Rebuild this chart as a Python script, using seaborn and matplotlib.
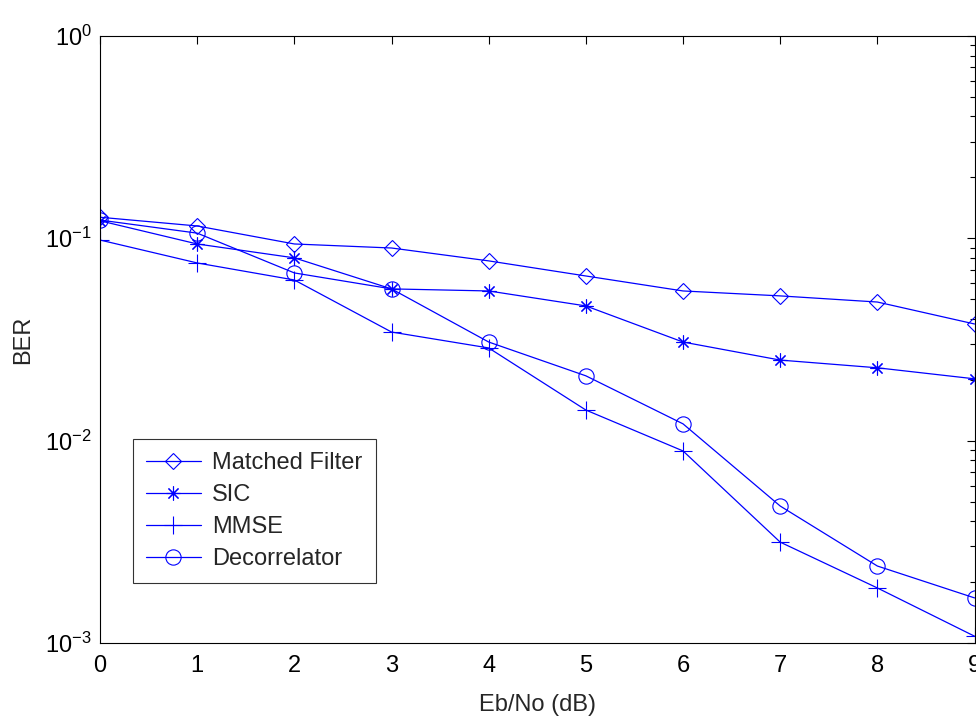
import numpy as np
import pandas as pd
import seaborn as sns
import matplotlib
matplotlib.use("Agg")
import matplotlib.pyplot as plt
from matplotlib.ticker import LogLocator, NullFormatter

# ---- data ----
ebno = [0, 1, 2, 3, 4, 5, 6, 7, 8, 9]
matched_filter = [0.127, 0.115, 0.0937, 0.0895, 0.0773, 0.0651, 0.0549, 0.0519, 0.0484, 0.0377]
sic = [0.122, 0.0937, 0.080, 0.0562, 0.0549, 0.0463, 0.0307, 0.0250, 0.0229, 0.0202]
mmse = [0.098, 0.0755, 0.0622, 0.0344, 0.0287, 0.01416, 0.00889, 0.00315, 0.00187, 0.00108]
decorrelator = [0.123, 0.106, 0.0674, 0.0562, 0.0307, 0.0209, 0.0121, 0.00475, 0.0024, 0.00167]

series_names = ["Matched Filter", "SIC", "MMSE", "Decorrelator"]
series_vals = [matched_filter, sic, mmse, decorrelator]

df = pd.concat([pd.DataFrame({"ebno": ebno, "ber": v, "detector": n})
                for n, v in zip(series_names, series_vals)], ignore_index=True)

sns.set_style("white")
plt.rcParams['font.family'] = ['Liberation Sans', 'DejaVu Sans']
plt.rcParams['mathtext.fontset'] = 'custom'
plt.rcParams['mathtext.rm'] = 'Liberation Sans'
plt.rcParams['xtick.direction'] = 'in'
plt.rcParams['ytick.direction'] = 'in'

fig = plt.figure(figsize=(9.76, 7.18), dpi=100)
ax = fig.add_axes([0.1025, 0.1045, 0.896, 0.8455])

style = {
    "Matched Filter": dict(marker="D", markersize=8),
    "SIC": dict(marker=(8, 2, 0), markersize=10),
    "MMSE": dict(marker="+", markersize=13),
    "Decorrelator": dict(marker="o", markersize=11),
}
for name in series_names:
    sns.lineplot(data=df[df.detector == name], x="ebno", y="ber", ax=ax,
                 color="#0000ff", linewidth=0.9, markerfacecolor="none",
                 markeredgecolor="#0000ff", markeredgewidth=0.8,
                 label=name, **style[name])

ax.set_yscale("log")
ax.set_xlim(0, 9)
ax.set_ylim(1e-3, 1)
ax.set_xticks(range(10))
ax.yaxis.set_major_locator(LogLocator(base=10, numticks=10))
ax.yaxis.set_minor_locator(LogLocator(base=10, subs=np.arange(2, 10), numticks=10))
ax.yaxis.set_minor_formatter(NullFormatter())
ax.tick_params(which="both", direction="in", top=True, right=True,
               labelsize=17, colors="black", pad=6)
ax.tick_params(axis="x", which="major", pad=9)
ax.tick_params(which="major", length=6, width=0.8)
ax.tick_params(which="minor", length=3.5, width=0.8)
for s in ax.spines.values():
    s.set_visible(True)
    s.set_color("black")
    s.set_linewidth(0.8)

ax.set_xlabel("Eb/No (dB)", fontsize=17, labelpad=12)
ax.set_ylabel("BER", fontsize=17, labelpad=8)

leg = ax.legend(loc="lower left", bbox_to_anchor=(0.038, 0.099), fontsize=17,
                frameon=True, fancybox=False, handlelength=2.3, handletextpad=0.5,
                borderaxespad=0, labelspacing=0.42, borderpad=0.55)
leg.get_frame().set_edgecolor("black")
leg.get_frame().set_linewidth(0.8)

fig.savefig("out.png", dpi=100)
